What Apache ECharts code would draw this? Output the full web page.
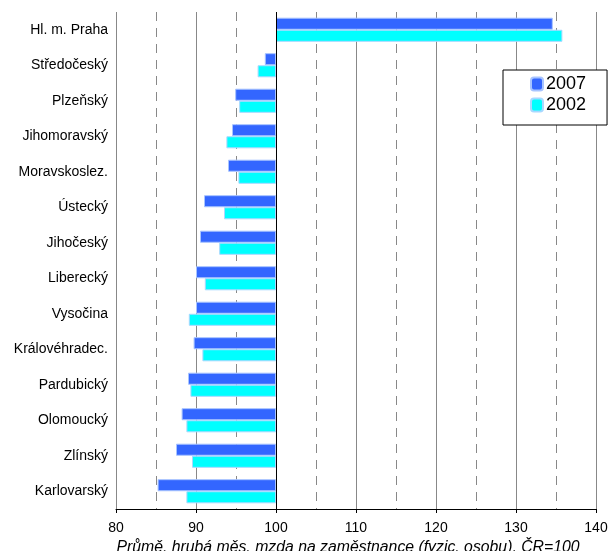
<!DOCTYPE html>
<html>
<head>
<meta charset="utf-8">
<script src="https://cdn.jsdelivr.net/npm/echarts@6/dist/echarts.min.js"></script>
<style>
  html, body { margin: 0; padding: 0; background: #fff; }
  #chart { width: 612px; height: 551px; }
</style>
</head>
<body>
<div id="chart"></div>
<script>
// kraje, shora dolu
const regions = ['Hl. m. Praha', 'Středočeský', 'Plzeňský', 'Jihomoravský', 'Moravskoslez.',
  'Ústecký', 'Jihočeský', 'Liberecký', 'Vysočina', 'Královéhradec.', 'Pardubický',
  'Olomoucký', 'Zlínský', 'Karlovarský'];
// ČR = 100
const values2007 = [134.6, 98.6, 94.9, 94.5, 94.0, 91.0, 90.5, 90.0, 90.0, 89.7, 89.0, 88.2, 87.5, 85.2];
const values2002 = [135.8, 97.7, 95.4, 93.8, 95.3, 93.5, 92.9, 91.1, 89.1, 90.8, 89.3, 88.8, 89.5, 88.8];
const baseValue = 100;
const axisMin = 80, axisMax = 140;

// bars are drawn from 100, so the axis works with differences from the base
const diff = arr => arr.map(v => +(v - baseValue).toFixed(2));

const font = 'Liberation Sans, Arial, sans-serif';
let myChart = echarts.init(document.getElementById('chart'));
myChart.setOption({
  animation: false,
  textStyle: { fontFamily: font },
  grid: { left: 116, right: 16, top: 12, bottom: 42, outerBoundsMode: 'none' },
  legend: {
    orient: 'vertical',
    left: 503,
    top: 70,
    padding: [4, 21, 10, 27],
    itemWidth: 12,
    itemHeight: 13,
    itemGap: 1,
    borderColor: '#000',
    borderWidth: 1,
    backgroundColor: '#fff',
    textStyle: { fontSize: 18, lineHeight: 20, color: '#000', padding: [0, 0, 0, -2] },
    data: ['2007', '2002']
  },
  xAxis: {
    type: 'value',
    min: axisMin - baseValue,
    max: axisMax - baseValue,
    interval: 10,
    axisLine: { show: true, lineStyle: { color: '#000', width: 1 } },
    axisTick: { show: true, length: 4, lineStyle: { color: '#000' } },
    axisLabel: {
      color: '#000', fontSize: 14, margin: 12,
      formatter: v => String(v + baseValue)
    },
    splitLine: { show: true, lineStyle: { color: '#888', width: 1 } },
    minorTick: { show: false, splitNumber: 2 },
    minorSplitLine: { show: true, lineStyle: { color: '#888', type: [9, 7], width: 1 } },
    name: 'Průmě. hrubá měs. mzda na zaměstnance (fyzic. osobu), ČR=100',
    nameLocation: 'middle',
    nameGap: 29,
    nameTextStyle: { fontStyle: 'italic', fontSize: 15.8, color: '#000', padding: [0, 16, 0, 0] }
  },
  yAxis: {
    type: 'category',
    inverse: true,
    data: regions,
    axisLine: { show: false },
    axisTick: { show: false },
    axisLabel: { color: '#000', fontSize: 14, margin: 8 }
  },
  series: [
    {
      name: '2007',
      type: 'bar',
      data: diff(values2007),
      barGap: '0%',
      barCategoryGap: '32%',
      itemStyle: { color: '#3366ff', borderColor: '#a8c4ff', borderWidth: 1 },
      markLine: {
        silent: true,
        symbol: 'none',
        label: { show: false },
        lineStyle: { color: '#000', type: 'solid', width: 1 },
        data: [{ xAxis: 0 }]
      }
    },
    {
      name: '2002',
      type: 'bar',
      data: diff(values2002),
      itemStyle: { color: '#00ffff', borderColor: '#a8d8ff', borderWidth: 1 }
    }
  ]
});
</script>
</body>
</html>
